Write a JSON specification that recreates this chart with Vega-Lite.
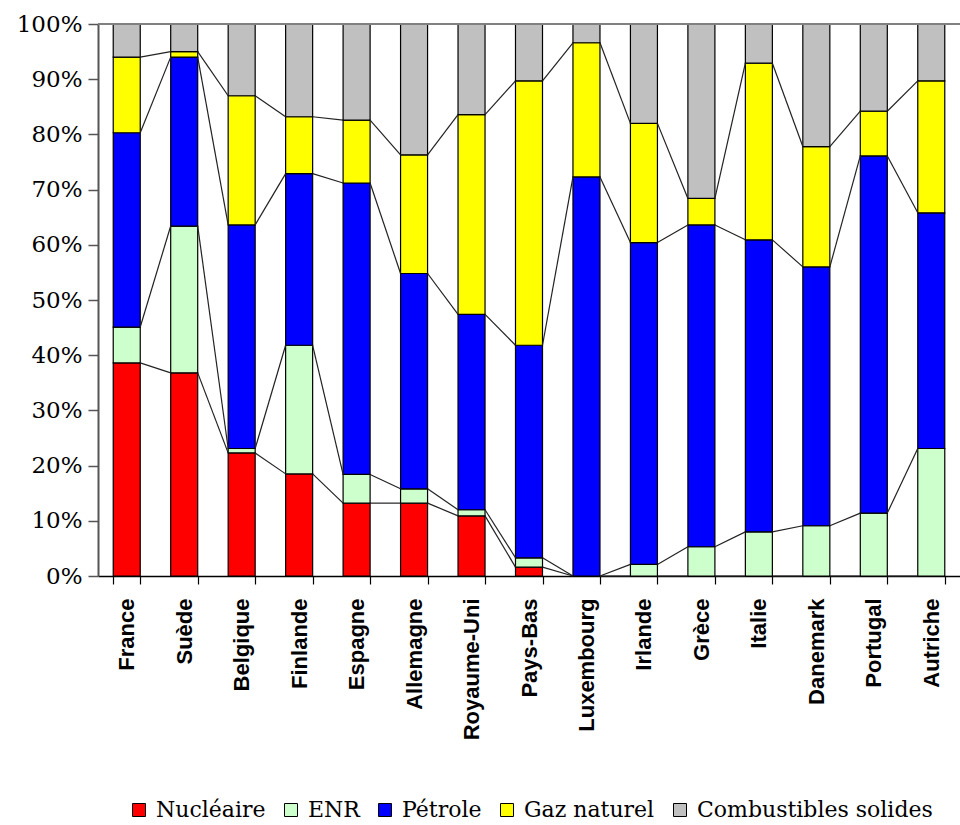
{
  "$schema": "https://vega.github.io/schema/vega-lite/v6.json",
  "width": 862,
  "height": 552,
  "autosize": {"type": "none"},
  "padding": {"left": 98, "top": 24, "right": 0, "bottom": 249},
  "background": "white",
  "config": {"view": {"stroke": null}},
  "data": {"values": [
    {"pays": "France", "energie": "Nucléaire", "valeur": 38.6},
    {"pays": "France", "energie": "ENR", "valeur": 6.5},
    {"pays": "France", "energie": "Pétrole", "valeur": 35.2},
    {"pays": "France", "energie": "Gaz naturel", "valeur": 13.7},
    {"pays": "France", "energie": "Combustibles solides", "valeur": 6.0},
    {"pays": "Suède", "energie": "Nucléaire", "valeur": 36.8},
    {"pays": "Suède", "energie": "ENR", "valeur": 26.6},
    {"pays": "Suède", "energie": "Pétrole", "valeur": 30.6},
    {"pays": "Suède", "energie": "Gaz naturel", "valeur": 1.0},
    {"pays": "Suède", "energie": "Combustibles solides", "valeur": 5.0},
    {"pays": "Belgique", "energie": "Nucléaire", "valeur": 22.3},
    {"pays": "Belgique", "energie": "ENR", "valeur": 0.8},
    {"pays": "Belgique", "energie": "Pétrole", "valeur": 40.5},
    {"pays": "Belgique", "energie": "Gaz naturel", "valeur": 23.4},
    {"pays": "Belgique", "energie": "Combustibles solides", "valeur": 13.0},
    {"pays": "Finlande", "energie": "Nucléaire", "valeur": 18.5},
    {"pays": "Finlande", "energie": "ENR", "valeur": 23.3},
    {"pays": "Finlande", "energie": "Pétrole", "valeur": 31.1},
    {"pays": "Finlande", "energie": "Gaz naturel", "valeur": 10.3},
    {"pays": "Finlande", "energie": "Combustibles solides", "valeur": 16.8},
    {"pays": "Espagne", "energie": "Nucléaire", "valeur": 13.2},
    {"pays": "Espagne", "energie": "ENR", "valeur": 5.2},
    {"pays": "Espagne", "energie": "Pétrole", "valeur": 52.8},
    {"pays": "Espagne", "energie": "Gaz naturel", "valeur": 11.4},
    {"pays": "Espagne", "energie": "Combustibles solides", "valeur": 17.4},
    {"pays": "Allemagne", "energie": "Nucléaire", "valeur": 13.2},
    {"pays": "Allemagne", "energie": "ENR", "valeur": 2.6},
    {"pays": "Allemagne", "energie": "Pétrole", "valeur": 39.0},
    {"pays": "Allemagne", "energie": "Gaz naturel", "valeur": 21.5},
    {"pays": "Allemagne", "energie": "Combustibles solides", "valeur": 23.7},
    {"pays": "Royaume-Uni", "energie": "Nucléaire", "valeur": 10.9},
    {"pays": "Royaume-Uni", "energie": "ENR", "valeur": 1.1},
    {"pays": "Royaume-Uni", "energie": "Pétrole", "valeur": 35.4},
    {"pays": "Royaume-Uni", "energie": "Gaz naturel", "valeur": 36.2},
    {"pays": "Royaume-Uni", "energie": "Combustibles solides", "valeur": 16.4},
    {"pays": "Pays-Bas", "energie": "Nucléaire", "valeur": 1.6},
    {"pays": "Pays-Bas", "energie": "ENR", "valeur": 1.7},
    {"pays": "Pays-Bas", "energie": "Pétrole", "valeur": 38.5},
    {"pays": "Pays-Bas", "energie": "Gaz naturel", "valeur": 47.9},
    {"pays": "Pays-Bas", "energie": "Combustibles solides", "valeur": 10.3},
    {"pays": "Luxembourg", "energie": "Nucléaire", "valeur": 0},
    {"pays": "Luxembourg", "energie": "ENR", "valeur": 0},
    {"pays": "Luxembourg", "energie": "Pétrole", "valeur": 72.3},
    {"pays": "Luxembourg", "energie": "Gaz naturel", "valeur": 24.3},
    {"pays": "Luxembourg", "energie": "Combustibles solides", "valeur": 3.4},
    {"pays": "Irlande", "energie": "Nucléaire", "valeur": 0},
    {"pays": "Irlande", "energie": "ENR", "valeur": 2.1},
    {"pays": "Irlande", "energie": "Pétrole", "valeur": 58.3},
    {"pays": "Irlande", "energie": "Gaz naturel", "valeur": 21.6},
    {"pays": "Irlande", "energie": "Combustibles solides", "valeur": 18.0},
    {"pays": "Grèce", "energie": "Nucléaire", "valeur": 0},
    {"pays": "Grèce", "energie": "ENR", "valeur": 5.3},
    {"pays": "Grèce", "energie": "Pétrole", "valeur": 58.3},
    {"pays": "Grèce", "energie": "Gaz naturel", "valeur": 4.8},
    {"pays": "Grèce", "energie": "Combustibles solides", "valeur": 31.6},
    {"pays": "Italie", "energie": "Nucléaire", "valeur": 0},
    {"pays": "Italie", "energie": "ENR", "valeur": 8.0},
    {"pays": "Italie", "energie": "Pétrole", "valeur": 52.9},
    {"pays": "Italie", "energie": "Gaz naturel", "valeur": 32.0},
    {"pays": "Italie", "energie": "Combustibles solides", "valeur": 7.1},
    {"pays": "Danemark", "energie": "Nucléaire", "valeur": 0},
    {"pays": "Danemark", "energie": "ENR", "valeur": 9.1},
    {"pays": "Danemark", "energie": "Pétrole", "valeur": 46.9},
    {"pays": "Danemark", "energie": "Gaz naturel", "valeur": 21.8},
    {"pays": "Danemark", "energie": "Combustibles solides", "valeur": 22.2},
    {"pays": "Portugal", "energie": "Nucléaire", "valeur": 0},
    {"pays": "Portugal", "energie": "ENR", "valeur": 11.4},
    {"pays": "Portugal", "energie": "Pétrole", "valeur": 64.7},
    {"pays": "Portugal", "energie": "Gaz naturel", "valeur": 8.1},
    {"pays": "Portugal", "energie": "Combustibles solides", "valeur": 15.8},
    {"pays": "Autriche", "energie": "Nucléaire", "valeur": 0},
    {"pays": "Autriche", "energie": "ENR", "valeur": 23.1},
    {"pays": "Autriche", "energie": "Pétrole", "valeur": 42.7},
    {"pays": "Autriche", "energie": "Gaz naturel", "valeur": 23.9},
    {"pays": "Autriche", "energie": "Combustibles solides", "valeur": 10.3}
  ]},
  "transform": [
    {"calculate": "indexof(['Nucléaire','ENR','Pétrole','Gaz naturel','Combustibles solides'], datum.energie)", "as": "rang"},
    {"calculate": "indexof(['France','Suède','Belgique','Finlande','Espagne','Allemagne','Royaume-Uni','Pays-Bas','Luxembourg','Irlande','Grèce','Italie','Danemark','Portugal','Autriche'], datum.pays)", "as": "ipays"}
  ],
  "layer": [
    {
      "mark": {"type": "bar", "stroke": "black", "strokeWidth": 1.2},
      "encoding": {
        "x": {
          "field": "pays", "type": "nominal",
          "sort": ["France","Suède","Belgique","Finlande","Espagne","Allemagne","Royaume-Uni","Pays-Bas","Luxembourg","Irlande","Grèce","Italie","Danemark","Portugal","Autriche"],
          "scale": {"paddingInner": 0.53, "paddingOuter": 0.265},
          "axis": {
            "title": null, "tickBand": "extent", "labelAngle": -90, "labelAlign": "right", "labelBaseline": "middle",
            "labelFont": "Liberation Sans", "labelFontWeight": "bold", "labelFontSize": 22, "labelColor": "black",
            "labelPadding": 14, "tickSize": 8, "tickColor": "black", "domainColor": "black", "domainWidth": 1.5, "tickWidth": 1.2
          }
        },
        "y": {
          "field": "valeur", "type": "quantitative", "aggregate": "sum", "stack": "normalize",
          "scale": {"domain": [0, 1]},
          "axis": {
            "title": null, "values": [0, 0.1, 0.2, 0.3, 0.4, 0.5, 0.6, 0.7, 0.8, 0.9, 1], "format": ".0%",
            "labelFont": "DejaVu Serif", "labelFontSize": 23, "labelColor": "black", "labelPadding": 6,
            "tickSize": 10, "tickColor": "#555", "domainColor": "#555", "domainWidth": 2, "tickWidth": 1.5, "grid": false
          }
        },
        "color": {
          "field": "energie", "type": "nominal",
          "scale": {
            "domain": ["Nucléaire", "ENR", "Pétrole", "Gaz naturel", "Combustibles solides"],
            "range": ["#FF0000", "#CCFFCC", "#0000FF", "#FFFF00", "#C0C0C0"]
          },
          "legend": {
            "title": null, "orient": "none", "direction": "horizontal", "columns": 5,
            "legendX": 30, "legendY": 775, "padding": 0,
            "symbolType": "square", "symbolSize": 169, "symbolStrokeColor": "black", "symbolStrokeWidth": 1,
            "labelFont": "DejaVu Serif", "labelFontSize": 22, "labelColor": "black", "labelOffset": 6,
            "columnPadding": 14, "labelLimit": 400
          }
        },
        "order": {"field": "rang", "type": "quantitative"}
      }
    },
    {
      "transform": [
        {"stack": "valeur", "groupby": ["pays"], "sort": [{"field": "rang"}], "offset": "normalize", "as": ["y0", "y1"]},
        {"window": [{"op": "lead", "field": "y1", "as": "y1n"}, {"op": "lead", "field": "pays", "as": "paysn"}], "groupby": ["energie"], "sort": [{"field": "ipays"}]},
        {"filter": "datum.paysn != null && datum.energie != 'Combustibles solides'"}
      ],
      "mark": {"type": "rule", "color": "#222", "strokeWidth": 1.2},
      "encoding": {
        "x": {"field": "pays", "type": "nominal", "bandPosition": 1, "sort": ["France","Suède","Belgique","Finlande","Espagne","Allemagne","Royaume-Uni","Pays-Bas","Luxembourg","Irlande","Grèce","Italie","Danemark","Portugal","Autriche"], "title": null},
        "x2": {"field": "paysn", "bandPosition": 0},
        "y": {"field": "y1", "type": "quantitative", "title": null},
        "y2": {"field": "y1n"}
      }
    },
    {
      "mark": {"type": "rule", "color": "#808080", "strokeWidth": 1.5},
      "encoding": {"y": {"datum": 1}}
    }
  ]
}
